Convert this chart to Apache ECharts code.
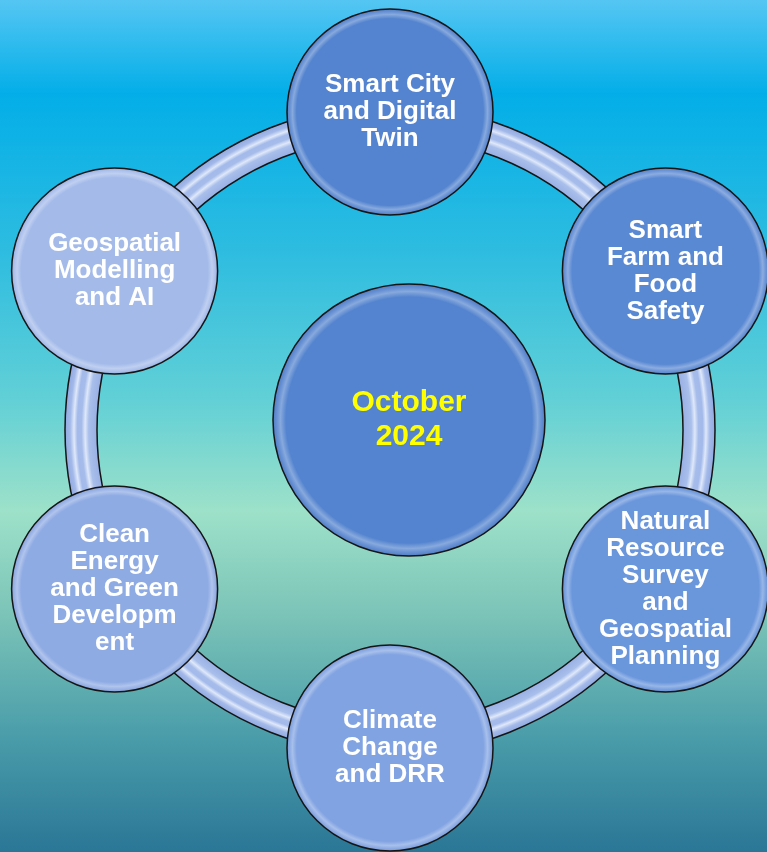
<!DOCTYPE html>
<html>
<head>
<meta charset="utf-8">
<script src="https://cdn.jsdelivr.net/npm/echarts@6/dist/echarts.min.js"></script>
<style>
  html, body { margin: 0; padding: 0; }
  #main { width: 767px; height: 852px; }
</style>
</head>
<body>
<div id="main"></div>
<script>
// topics around the cycle, clockwise from the top
var topics = [
  'Smart City\nand Digital\nTwin',
  'Smart\nFarm and\nFood\nSafety',
  'Natural\nResource\nSurvey\nand\nGeospatial\nPlanning',
  'Climate\nChange\nand DRR',
  'Clean\nEnergy\nand Green\nDevelopm\nent',
  'Geospatial\nModelling\nand AI'
];
// every topic sits on the ring (radius 1)
var ringRadius = [1, 1, 1, 1, 1, 1];
var centerLabel = ['October', '2024'];

// fill of each bubble
var nodeColors = ['#5484cf', '#5a89d3', '#6a96dc', '#81a3e2', '#8eabe4', '#a4bbea'];

function mix(hex, other, t) {
  var a = parseInt(hex.slice(1), 16), b = parseInt(other.slice(1), 16);
  var r = Math.round(((a >> 16) & 255) * (1 - t) + ((b >> 16) & 255) * t);
  var g = Math.round(((a >> 8) & 255) * (1 - t) + ((b >> 8) & 255) * t);
  var bl = Math.round((a & 255) * (1 - t) + (b & 255) * t);
  return 'rgb(' + r + ',' + g + ',' + bl + ')';
}
function bubble(c) {
  return {
    type: 'radial', x: 0.5, y: 0.5, r: 0.5,
    colorStops: [
      { offset: 0, color: c },
      { offset: 0.9, color: c },
      { offset: 0.94, color: mix(c, '#ffffff', 0.3) },
      { offset: 0.965, color: mix(c, '#ffffff', 0.12) },
      { offset: 1, color: mix(c, '#1a2a50', 0.12) }
    ]
  };
}

var font = '"Liberation Sans", Arial, sans-serif';
var myChart = echarts.init(document.getElementById('main'));

var option = {
  backgroundColor: {
    type: 'linear', x: 0, y: 0, x2: 0, y2: 1,
    colorStops: [
      { offset: 0, color: '#55c6f3' },
      { offset: 0.11, color: '#03aee8' },
      { offset: 0.3, color: '#2fbde0' },
      { offset: 0.47, color: '#62d0d6' },
      { offset: 0.6, color: '#9de1c9' },
      { offset: 0.72, color: '#7cc4b8' },
      { offset: 0.86, color: '#4b9eaa' },
      { offset: 1, color: '#2a7696' }
    ]
  },
  polar: { center: [390, 430], radius: 318 },
  angleAxis: {
    type: 'category', data: topics, startAngle: 90, clockwise: true,
    boundaryGap: false, show: false
  },
  radiusAxis: { min: 0, max: 1, show: false },
  series: [
    {
      // the ring tube
      type: 'pie', silent: true, z: 1,
      center: [390, 430], radius: [293, 325],
      label: { show: false }, labelLine: { show: false },
      itemStyle: {
        borderColor: '#151515', borderWidth: 1.5,
        color: {
          type: 'radial', x: 0.5, y: 0.5, r: 0.5,
          colorStops: [
            { offset: 0, color: '#9bb3e5' },
            { offset: 0.9, color: '#98b0e4' },
            { offset: 0.925, color: '#a9bfeb' },
            { offset: 0.936, color: '#dfe8fa' },
            { offset: 0.947, color: '#a6bcea' },
            { offset: 0.96, color: '#a3baea' },
            { offset: 0.97, color: '#dfe8fa' },
            { offset: 0.982, color: '#a3b9e9' },
            { offset: 1, color: '#8ea7df' }
          ]
        }
      },
      data: [{ value: 1, name: 'ring' }]
    },
    {
      type: 'scatter', coordinateSystem: 'polar', silent: true, z: 3,
      symbol: 'circle', symbolSize: 206,
      data: ringRadius.map(function (r, i) {
        return {
          value: [r, i],
          itemStyle: { color: bubble(nodeColors[i]), borderColor: '#151515', borderWidth: 1.5, opacity: 1 }
        };
      }),
      label: {
        show: true, position: 'inside',
        formatter: function (p) { return topics[p.dataIndex]; },
        color: '#ffffff', fontFamily: font, fontWeight: 'bold',
        fontSize: 26, lineHeight: 27, align: 'center'
      }
    },
    {
      // centre bubble
      type: 'pie', silent: true, z: 3,
      center: [409, 420], radius: [0, 136],
      labelLine: { show: false },
      label: {
        show: true, position: 'center',
        formatter: centerLabel.join('\n'),
        color: '#ffff00', fontFamily: font, fontWeight: 'bold',
        fontSize: 30, lineHeight: 34
      },
      itemStyle: { color: bubble('#5484cf'), borderColor: '#151515', borderWidth: 1.5 },
      data: [{ value: 1, name: 'centre' }]
    }
  ]
};

myChart.setOption(option);
</script>
</body>
</html>
